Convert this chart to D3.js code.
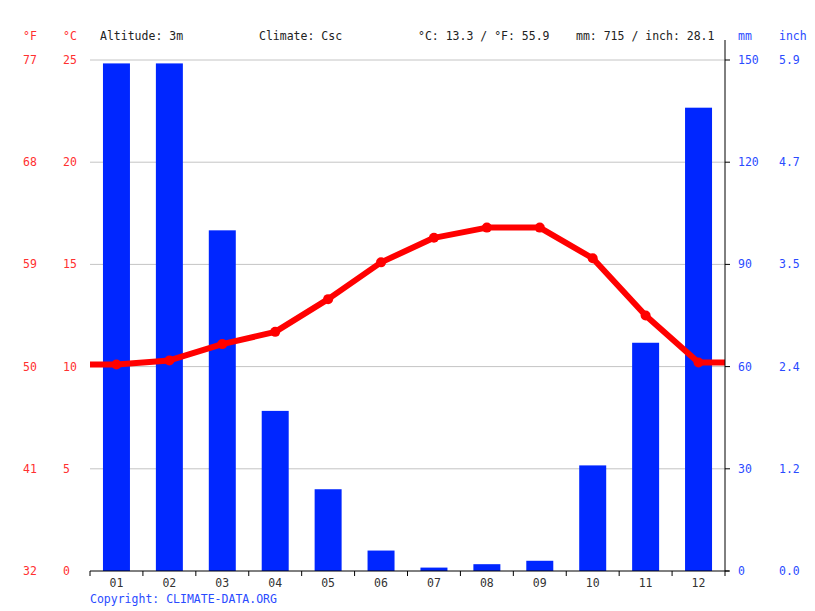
<!DOCTYPE html>
<html>
<head>
<meta charset="utf-8">
<script src="https://cdn.jsdelivr.net/npm/d3@7"></script>
<style>
  body { margin: 0; background: #fff; }
  text { font-family: "DejaVu Sans Mono", monospace; font-size: 11.5px; }
</style>
</head>
<body>
<div class="chart"></div>
<script>
var months = ['01','02','03','04','05','06','07','08','09','10','11','12'];
var precipMm = [149, 149, 100, 47, 24, 6, 1, 2, 3, 31, 67, 136];
var tempC = [10.1, 10.3, 11.1, 11.7, 13.3, 15.1, 16.3, 16.8, 16.8, 15.3, 12.5, 10.2];
var cTicks = [0, 5, 10, 15, 20, 25];
var fTicks = ['32', '41', '50', '59', '68', '77'];
var mmTicks = [0, 30, 60, 90, 120, 150];
var inchTicks = ['0.0', '1.2', '2.4', '3.5', '4.7', '5.9'];
var header = ['Altitude: 3m', 'Climate: Csc', '°C: 13.3 / °F: 55.9', 'mm: 715 / inch: 28.1'];

var w = 815, h = 611;
var plotL = 90, plotR = 725, plotT = 60, plotB = 571;

var svg = d3.select('.chart').append('svg')
	.attr('width', w)
	.attr('height', h);

var x = d3.scaleBand().domain(months).range([plotL, plotR]);
var yT = d3.scaleLinear().domain([0, 25]).range([plotB, plotT]);
var yP = d3.scaleLinear().domain([0, 150]).range([plotB, plotT]);

/*--------------------------- GRID ---------------------------*/
svg.selectAll('.grid').data(cTicks.slice(1)).enter()
	.append('line')
	.attr('x1', plotL).attr('x2', plotR)
	.attr('y1', function(d){ return yT(d); })
	.attr('y2', function(d){ return yT(d); })
	.attr('stroke', '#c4c4c4')
	.attr('stroke-width', 1);

/*--------------------------- BARS ---------------------------*/
svg.selectAll('.bar').data(precipMm).enter()
	.append('rect')
	.attr('x', function(d, i){ return x(months[i]) + x.bandwidth() * 0.245; })
	.attr('width', x.bandwidth() * 0.51)
	.attr('y', function(d){ return yP(d); })
	.attr('height', function(d){ return plotB - yP(d); })
	.attr('fill', '#0026ff');

/*--------------------------- TEMP LINE ---------------------------*/
var pts = tempC.map(function(d, i){ return [x(months[i]) + x.bandwidth() / 2, yT(d)]; });
var linePts = [[plotL, yT(tempC[0])]].concat(pts, [[plotR, yT(tempC[11])]]);

svg.append('path')
	.attr('d', d3.line()(linePts))
	.attr('fill', 'none')
	.attr('stroke', '#ff0000')
	.attr('stroke-width', 6)
	.attr('stroke-linejoin', 'round');

svg.selectAll('.dot').data(pts).enter()
	.append('circle')
	.attr('cx', function(d){ return d[0]; })
	.attr('cy', function(d){ return d[1]; })
	.attr('r', 5)
	.attr('fill', '#ff0000');

/*--------------------------- AXES ---------------------------*/
var xAxis = svg.append('g')
	.attr('transform', 'translate(0,' + plotB + ')');
xAxis.append('line')
	.attr('x1', plotL).attr('x2', plotR + 4)
	.attr('stroke', '#000');
xAxis.selectAll('.tick').data(d3.range(13)).enter()
	.append('line')
	.attr('x1', function(d){ return plotL + d * x.step(); })
	.attr('x2', function(d){ return plotL + d * x.step(); })
	.attr('y1', 0).attr('y2', 5)
	.attr('stroke', '#000');
xAxis.selectAll('.lbl').data(months).enter()
	.append('text')
	.attr('x', function(d){ return x(d) + x.bandwidth() / 2; })
	.attr('y', 16)
	.attr('text-anchor', 'middle')
	.attr('fill', '#333')
	.text(function(d){ return d; });

var rAxis = svg.append('g');
rAxis.append('line')
	.attr('x1', plotR).attr('x2', plotR)
	.attr('y1', 40).attr('y2', plotB)
	.attr('stroke', '#000');
rAxis.selectAll('.tick').data(mmTicks).enter()
	.append('line')
	.attr('x1', plotR).attr('x2', plotR + 5)
	.attr('y1', function(d){ return yP(d); })
	.attr('y2', function(d){ return yP(d); })
	.attr('stroke', '#000');

/*--------------------------- LABELS ---------------------------*/
function column(data, xpos, color, yfn) {
	svg.selectAll(null).data(data).enter()
		.append('text')
		.attr('x', xpos)
		.attr('y', function(d, i){ return yfn(i) + 4; })
		.attr('fill', color)
		.text(function(d){ return d; });
}
var red = '#ff3030', blue = '#2a4bff';
column(fTicks, 23, red, function(i){ return yT(cTicks[i]); });
column(cTicks, 63, red, function(i){ return yT(cTicks[i]); });
column(mmTicks, 738, blue, function(i){ return yP(mmTicks[i]); });
column(inchTicks, 779, blue, function(i){ return yP(mmTicks[i]); });

svg.append('text').attr('x', 23).attr('y', 40).attr('fill', red).text('°F');
svg.append('text').attr('x', 63).attr('y', 40).attr('fill', red).text('°C');
svg.append('text').attr('x', 738).attr('y', 40).attr('fill', blue).text('mm');
svg.append('text').attr('x', 779).attr('y', 40).attr('fill', blue).text('inch');

var headX = [100, 259, 418, 576];
svg.selectAll('.head').data(header).enter()
	.append('text')
	.attr('x', function(d, i){ return headX[i]; })
	.attr('y', 40)
	.attr('fill', '#222')
	.text(function(d){ return d; });

svg.append('text')
	.attr('x', 90).attr('y', 603)
	.attr('fill', blue)
	.text('Copyright: CLIMATE-DATA.ORG');
</script>
</body>
</html>
